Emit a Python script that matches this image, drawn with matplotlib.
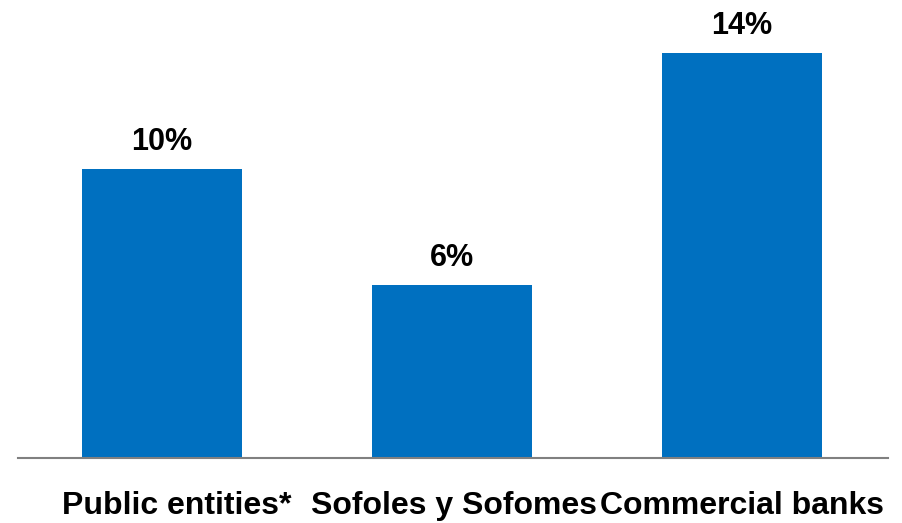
import matplotlib.pyplot as plt

plt.rcParams['font.family'] = ['Liberation Sans', 'DejaVu Sans']

categories = ["Public entities*", "Sofoles y Sofomes", "Commercial banks"]
shares = [10, 6, 14]
label_shift = [15, 2, 0]  # horizontal nudge of category names, in pixels

fig = plt.figure(figsize=(9.02, 5.23), dpi=100)
ax = fig.add_axes([18 / 902, 65 / 523, 870 / 902, 458 / 523])

x = range(len(categories))
ax.bar(x, shares, width=0.55, color="#0070C0")

for xi, v in zip(x, shares):
    ax.annotate(f"{v}%", (xi, v), xytext=(0, 12), textcoords="offset pixels",
                ha="center", va="bottom", fontsize=22, fontweight="bold")

for xi, name, dx in zip(x, categories, label_shift):
    ax.annotate(name, (xi, 0), xytext=(dx, -56), textcoords="offset pixels",
                ha="center", va="baseline", fontsize=23, fontweight="bold",
                annotation_clip=False)

ax.set_xlim(-0.497, 2.503)
ax.set_ylim(0, 15.85)
ax.set_xticks([])
ax.set_yticks([])
for side in ("top", "right", "left"):
    ax.spines[side].set_visible(False)
ax.spines["bottom"].set_color("#808080")
ax.spines["bottom"].set_linewidth(1.5)

fig.savefig("out.png", dpi=100)
